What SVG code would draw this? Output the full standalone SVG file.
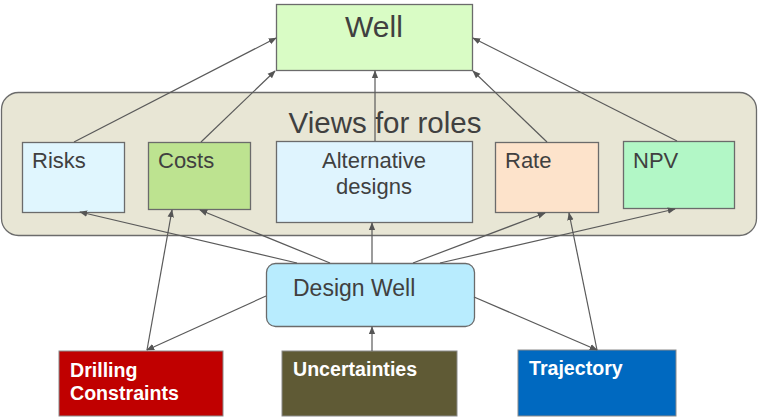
<svg xmlns="http://www.w3.org/2000/svg" width="759" height="418" viewBox="0 0 759 418">
  <defs>
    <marker id="arrow" viewBox="0 0 10 10" refX="9" refY="5" markerWidth="8" markerHeight="8" markerUnits="userSpaceOnUse" orient="auto">
      <path d="M0,1 L10,5 L0,9 Z" fill="#555"/>
    </marker>
    <style>
      .box { stroke: #6b6b6b; stroke-width: 1.3; }
      .lbl { font-family: "Liberation Sans", Arial, sans-serif; fill: #404040; }
      .wlbl { font-family: "Liberation Sans", Arial, sans-serif; font-weight: bold; fill: #ffffff; font-size: 19.6px; }
      .conn line { stroke: #5a5a5a; stroke-width: 1.2; marker-end: url(#arrow); }
    </style>
  </defs>

  <rect width="759" height="418" fill="#ffffff"/>

  <!-- container for role views -->
  <g id="views">
    <rect class="box" x="1.5" y="92.5" width="755" height="143" rx="17" fill="#e8e6d5"/>
    <text class="lbl" x="385" y="133" font-size="29.5" text-anchor="middle">Views for roles</text>
  </g>

  <g id="well">
    <rect class="box" x="276.5" y="4.5" width="196" height="66" fill="#d9fcc5"/>
    <text class="lbl" x="374" y="37" font-size="30" text-anchor="middle">Well</text>
  </g>

  <g id="risks">
    <rect class="box" x="22.5" y="142.5" width="102" height="70" fill="#e0f6fe"/>
    <text class="lbl" x="32" y="168" font-size="22">Risks</text>
  </g>

  <g id="costs">
    <rect class="box" x="148.5" y="142.5" width="102" height="67" fill="#bde390"/>
    <text class="lbl" x="158" y="168" font-size="22">Costs</text>
  </g>

  <g id="alternatives">
    <rect class="box" x="276.5" y="141.5" width="196" height="81" fill="#dff4fe"/>
    <text class="lbl" x="374" y="168" font-size="22" text-anchor="middle">Alternative</text>
    <text class="lbl" x="374" y="194" font-size="22" text-anchor="middle">designs</text>
  </g>

  <g id="rate">
    <rect class="box" x="495.5" y="142.5" width="103" height="70" fill="#fde3cb"/>
    <text class="lbl" x="505" y="168" font-size="22">Rate</text>
  </g>

  <g id="npv">
    <rect class="box" x="623.5" y="141.5" width="111" height="67" fill="#b2f7c6"/>
    <text class="lbl" x="633" y="168" font-size="22">NPV</text>
  </g>

  <g id="design-well">
    <rect class="box" x="266.5" y="263.5" width="208" height="63" rx="9" fill="#b8ecfe"/>
    <text class="lbl" x="293" y="296" font-size="23">Design Well</text>
  </g>

  <g id="drilling-constraints">
    <rect x="59" y="351" width="164" height="65" fill="#c00000" stroke="#8a8a8a" stroke-width="1"/>
    <text class="wlbl" x="70" y="377">Drilling</text>
    <text class="wlbl" x="70" y="400">Constraints</text>
  </g>

  <g id="uncertainties">
    <rect x="282" y="351" width="175" height="65" fill="#5f5a35" stroke="#8a8a8a" stroke-width="1"/>
    <text class="wlbl" x="293" y="376">Uncertainties</text>
  </g>

  <g id="trajectory">
    <rect x="518" y="350" width="158" height="66" fill="#0069c0" stroke="#8a8a8a" stroke-width="1"/>
    <text class="wlbl" x="529" y="375">Trajectory</text>
  </g>

  <g id="connectors" class="conn">
    <!-- views feed the well -->
    <line x1="74" y1="142" x2="276" y2="38"/>
    <line x1="201" y1="142" x2="275" y2="71"/>
    <line x1="375" y1="141" x2="375" y2="71"/>
    <line x1="547" y1="142" x2="473" y2="71"/>
    <line x1="677" y1="141" x2="473" y2="38"/>
    <!-- design well feeds the views -->
    <line x1="297" y1="263" x2="80" y2="212"/>
    <line x1="330" y1="263" x2="200" y2="210"/>
    <line x1="372" y1="263" x2="372" y2="223"/>
    <line x1="413" y1="263" x2="545" y2="213"/>
    <line x1="440" y1="263" x2="675" y2="209"/>
    <!-- inputs -->
    <line x1="147" y1="350" x2="172" y2="210"/>
    <line x1="266" y1="296" x2="147" y2="350"/>
    <line x1="372" y1="351" x2="372" y2="327"/>
    <line x1="474" y1="297" x2="597" y2="350"/>
    <line x1="597" y1="350" x2="569" y2="213"/>
  </g>
</svg>
